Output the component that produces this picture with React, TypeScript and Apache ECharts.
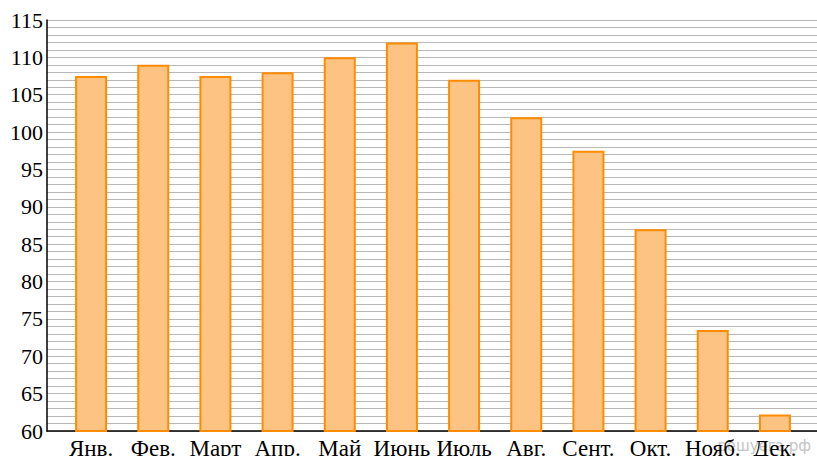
import React, { useEffect, useRef } from "react";
import * as echarts from "echarts";

const months = ["Янв.", "Фев.", "Март", "Апр.", "Май", "Июнь", "Июль", "Авг.", "Сент.", "Окт.", "Нояб.", "Дек."];
const values = [107.5, 109, 107.5, 108, 110, 112, 107, 102, 97.5, 87, 73.5, 62.2];
const yMin = 60;
const yMax = 115;
const yLabelStep = 5;
const watermark = "решуегэ.рф";

export default function App() {
  const ref = useRef<HTMLDivElement>(null);
  useEffect(() => {
    document.body.style.margin = "0";
    if (!ref.current) return;
    const chart = echarts.init(ref.current, undefined, { renderer: "svg" });
    const serif = "Liberation Serif";
    chart.setOption({
      animation: false,
      backgroundColor: "#ffffff",
      textStyle: { fontFamily: serif },
      grid: [
        { left: 47, right: 0, top: 20, bottom: 25, containLabel: false, outerBoundsMode: "none" },
        { left: 60, right: 11, top: 20, bottom: 25, containLabel: false, outerBoundsMode: "none" },
      ],
      xAxis: [
        {
          gridIndex: 0,
          type: "value",
          min: 0,
          max: 1,
          axisLine: { show: true, lineStyle: { color: "#000", width: 1.5 } },
          axisTick: { show: false },
          axisLabel: { show: false },
          splitLine: { show: false },
        },
        {
          gridIndex: 1,
          type: "category",
          data: months,
          axisLine: { show: false },
          axisTick: { show: false },
          axisLabel: {
            interval: 0,
            margin: 6,
            color: "#000",
            fontFamily: serif,
            fontSize: 23,
          },
          splitLine: { show: false },
        },
      ],
      yAxis: [
        {
          gridIndex: 0,
          type: "value",
          min: yMin,
          max: yMax,
          interval: 1,
          axisLine: { show: true, lineStyle: { color: "#000", width: 1.5 } },
          axisTick: { show: false },
          axisLabel: {
            margin: 4,
            color: "#000",
            fontFamily: serif,
            fontSize: 22,
            formatter: (v: number) => (Math.round(v) % yLabelStep === 0 ? String(Math.round(v)) : ""),
          },
          splitLine: { show: true, lineStyle: { color: "#b8b8b8", width: 1 } },
        },
        {
          gridIndex: 1,
          type: "value",
          min: yMin,
          max: yMax,
          show: false,
        },
      ],
      series: [
        {
          type: "bar",
          xAxisIndex: 1,
          yAxisIndex: 1,
          data: values,
          barWidth: 32,
          itemStyle: { color: "#fdc382", borderColor: "#ff8c00", borderWidth: 2 },
        },
      ],
      graphic: [
        {
          type: "text",
          right: 6,
          top: 438,
          z: 0,
          style: {
            text: watermark,
            fill: "#c4c4c4",
            font: "15px DejaVu Sans",
          },
        },
      ],
    });
    return () => chart.dispose();
  }, []);
  return <div ref={ref} style={{ width: 817, height: 456 }} />;
}
